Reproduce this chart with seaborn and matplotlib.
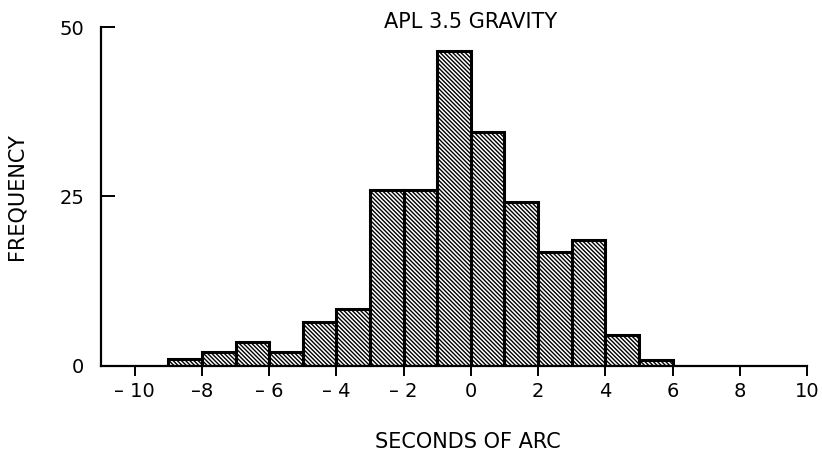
import numpy as np
import pandas as pd
import matplotlib
matplotlib.use('Agg')
import matplotlib.pyplot as plt
import seaborn as sns

# Histogram (bin width = 1 second of arc)
bin_edges = [-9, -8, -7, -6, -5, -4, -3, -2, -1, 0, 1, 2, 3, 4, 5, 6]
counts = [1, 2, 3.5, 2, 6.5, 8.3, 26, 26, 46.5, 34.5, 24.2, 16.8, 18.6, 4.6, 0.9]

x_ticks = [-10, -8, -6, -4, -2, 0, 2, 4, 6, 8, 10]
x_tick_labels = ['– 10', '–8', '– 6', '– 4', '– 2', '0', '2', '4', '6', '8', '10']
y_ticks = [0, 25, 50]

centers = [(a + b) / 2 for a, b in zip(bin_edges[:-1], bin_edges[1:])]
df = pd.DataFrame({'arc': centers, 'freq': counts})

sns.set_style('white')
plt.rcParams['font.family'] = ['DejaVu Sans']
plt.rcParams['hatch.linewidth'] = 1.0
plt.rcParams['text.color'] = 'black'
plt.rcParams['axes.labelcolor'] = 'black'
plt.rcParams['xtick.color'] = 'black'
plt.rcParams['ytick.color'] = 'black'

fig = plt.figure(figsize=(8.22, 4.61), dpi=100)
ax = fig.add_axes([0.1229, 0.2067, 0.8589, 0.7347])

sns.histplot(data=df, x='arc', weights='freq', bins=bin_edges, ax=ax,
             color='white', edgecolor='black', linewidth=2.2, alpha=1)
for p in ax.patches:
    p.set_hatch('\\\\\\\\\\\\\\\\')

ax.set_xlim(-11, 10)
ax.set_ylim(0, 50)
ax.set_xticks(x_ticks)
ax.set_xticklabels(x_tick_labels)
ax.set_yticks(y_ticks)

sns.despine(ax=ax, top=True, right=True)
for s in ['left', 'bottom']:
    ax.spines[s].set_linewidth(1.6)
    ax.spines[s].set_color('black')

ax.tick_params(axis='x', direction='out', length=7, width=1.4, pad=5,
               labelsize=14, bottom=True)
ax.tick_params(axis='y', direction='in', length=10, width=1.4, pad=12,
               labelsize=14, left=True)

ax.set_xlabel('SECONDS OF ARC', fontsize=15)
ax.set_ylabel('FREQUENCY', fontsize=15)
ax.xaxis.set_label_coords(0.52, -0.195)
ax.yaxis.set_label_coords(-0.105, 0.5)

ax.text(0, 50.7, 'APL 3.5 GRAVITY', ha='center', va='center', fontsize=15)

fig.savefig('out.png', dpi=100)
